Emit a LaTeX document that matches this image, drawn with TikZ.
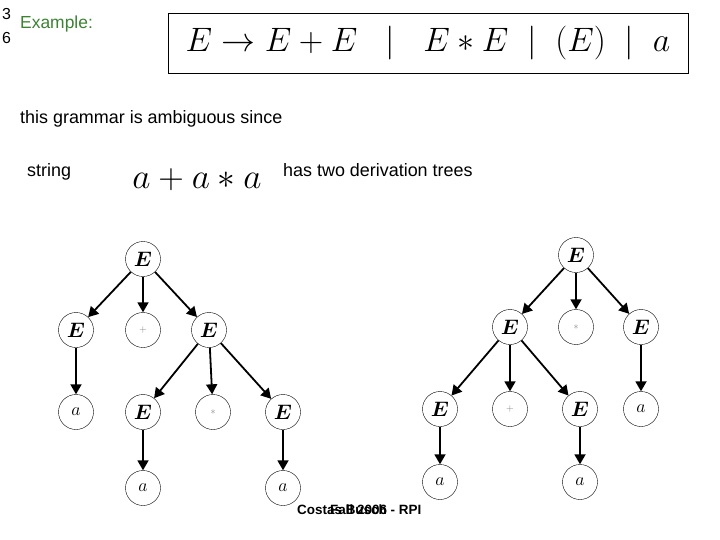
\RequirePackage{fix-cm}
\documentclass[tikz,border=0pt]{standalone}
\usepackage{fontspec}
\setmainfont{Liberation Sans}
\usetikzlibrary{arrows.meta, positioning}

\begin{document}
\begin{tikzpicture}[
    x=1bp, y=-1bp,
    vnode/.style={draw, circle, minimum size=35bp, inner sep=0pt, font=\fontsize{21}{21}\selectfont\boldmath},
    tnode/.style={draw, circle, minimum size=35bp, inner sep=0pt, font=\fontsize{18}{18}\selectfont},
    opnode/.style={draw, circle, minimum size=35bp, inner sep=0pt, font=\fontsize{10}{10}\selectfont, text=gray},
    txt/.style={font=\fontsize{18}{21}\selectfont, inner sep=0pt, anchor=base west},
    arrow/.style={-{Triangle[length=10bp, width=11bp]}, line width=1.8bp}
]
\useasboundingbox (0,0) rectangle (720,540);

% Title
\node[font=\fontsize{16}{16}\selectfont, inner sep=0pt, anchor=base west] (num3) at (2,20) {3};
\node[font=\fontsize{16}{16}\selectfont, inner sep=0pt, anchor=base west] (num6) at (2,44) {6};
\node[font=\fontsize{17.5}{17.5}\selectfont, text={rgb,255:red,60;green,130;blue,50}, inner sep=0pt, anchor=base west] (title) at (20,29) {Example:};

% Grammar
\node[draw, minimum width=520bp, minimum height=60bp, inner sep=0pt] (grammar) at (428,43) {};
\node[font=\fontsize{34}{34}\selectfont] (rules) at (grammar.center)
  {$E \rightarrow E + E \;\;\mid\;\; E * E \;\mid\; (E) \;\mid\; a$};

% Text lines
\node[txt] (ambig) at (20,124) {this grammar is ambiguous since};
\node[txt] (str) at (27,177) {string};
\node[font=\fontsize{35.5}{35.5}\selectfont, inner sep=0pt, anchor=base] (word) at (197,189) {$a + a * a$};
\node[txt] (two) at (283,177) {has two derivation trees};

% Left tree
\node[vnode] (l0) at (143,259) {$E$};
\node[vnode] (l1) at (76,330) {$E$};
\node[opnode] (l2) at (143,330) {$+$};
\node[vnode] (l3) at (209,330) {$E$};
\node[tnode] (l4) at (76,412) {$a$};
\node[vnode] (l5) at (143,412) {$E$};
\node[opnode] (l6) at (213,412) {$*$};
\node[vnode] (l7) at (283,412) {$E$};
\node[tnode] (l8) at (143,488) {$a$};
\node[tnode] (l9) at (283,488) {$a$};

\draw[arrow] (l0) -- (l1);
\draw[arrow] (l0) -- (l2);
\draw[arrow] (l0) -- (l3);
\draw[arrow] (l1) -- (l4);
\draw[arrow] (l3) -- (l5);
\draw[arrow] (l3) -- (l6);
\draw[arrow] (l3) -- (l7);
\draw[arrow] (l5) -- (l8);
\draw[arrow] (l7) -- (l9);

% Right tree
\node[vnode] (r0) at (576,255) {$E$};
\node[vnode] (r1) at (510,327) {$E$};
\node[opnode] (r2) at (576,327) {$*$};
\node[vnode] (r3) at (641,327) {$E$};
\node[vnode] (r4) at (440,409) {$E$};
\node[opnode] (r5) at (510,409) {$+$};
\node[vnode] (r6) at (580,409) {$E$};
\node[tnode] (r7) at (641,409) {$a$};
\node[tnode] (r8) at (440,482) {$a$};
\node[tnode] (r9) at (580,482) {$a$};

\draw[arrow] (r0) -- (r1);
\draw[arrow] (r0) -- (r2);
\draw[arrow] (r0) -- (r3);
\draw[arrow] (r1) -- (r4);
\draw[arrow] (r1) -- (r5);
\draw[arrow] (r1) -- (r6);
\draw[arrow] (r3) -- (r7);
\draw[arrow] (r4) -- (r8);
\draw[arrow] (r6) -- (r9);

% Footer
\node[font=\fontsize{13.5}{13.5}\selectfont\bfseries, inner sep=0pt, anchor=base west] (author) at (297,514) {Costas Busch - RPI};
\node[font=\fontsize{13.5}{13.5}\selectfont\bfseries, inner sep=0pt, anchor=base west] (term) at (330,514) {Fall 2006};

\end{tikzpicture}
\end{document}
